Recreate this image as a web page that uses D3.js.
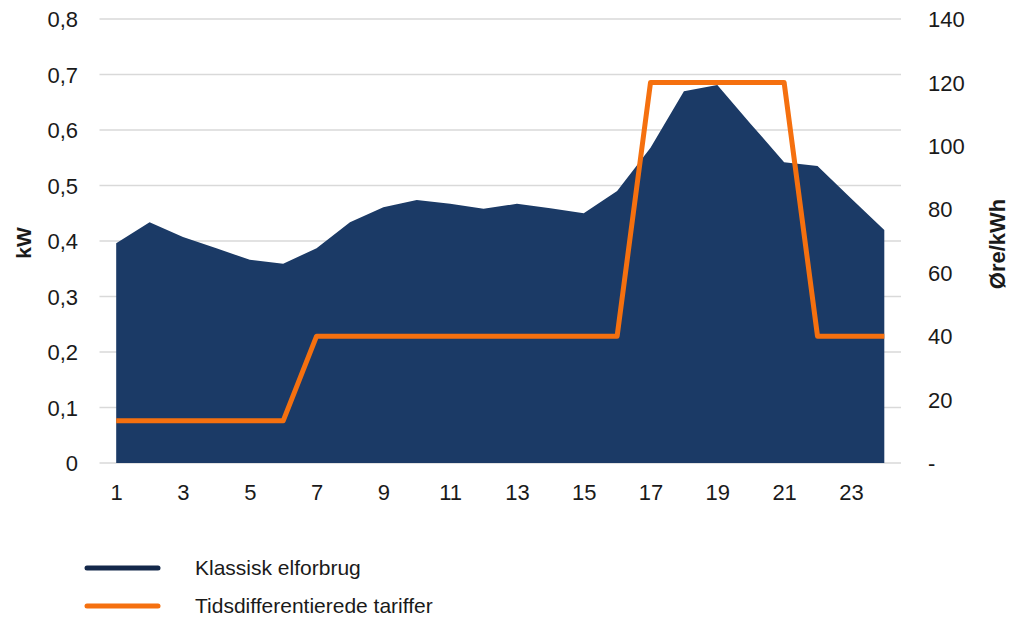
<!DOCTYPE html>
<html><head><meta charset="utf-8">
<script src="https://cdn.jsdelivr.net/npm/d3@7"></script>
<style>body{margin:0;background:#fff}svg{font-family:"Liberation Sans",Arial,sans-serif}</style>
</head><body><svg id="c" width="1010" height="620"></svg>
<script>
const hours = d3.range(1,25);
const consumption = [0.396,0.434,0.407,0.387,0.366,0.359,0.387,0.434,0.461,0.474,0.467,0.458,0.467,0.459,0.450,0.490,0.568,0.670,0.681,0.611,0.542,0.535,0.477,0.420];
const tariff = [13.3,13.3,13.3,13.3,13.3,13.3,40,40,40,40,40,40,40,40,40,40,120,120,120,120,120,40,40,40];
const leftTicks = [0,0.1,0.2,0.3,0.4,0.5,0.6,0.7,0.8];
const rightTicks = [0,20,40,60,80,100,120,140];
const xTicks = [1,3,5,7,9,11,13,15,17,19,21,23];
const seriesNames = ["Klassisk elforbrug","Tidsdifferentierede tariffer"];

const svg = d3.select("#c");
const x = d3.scaleLinear().domain([0.5,24.5]).range([99.5,901]);
const yL = d3.scaleLinear().domain([0,0.8]).range([463,19]);
const yR = d3.scaleLinear().domain([0,140]).range([463,19]);

// grid
svg.append("g").selectAll("line").data(leftTicks).join("line")
  .attr("x1",x.range()[0]).attr("x2",x.range()[1])
  .attr("y1",d=>yL(d)).attr("y2",d=>yL(d))
  .attr("stroke","#d9d9d9").attr("stroke-width",1.5);

// area
svg.append("path").datum(hours)
  .attr("d", d3.area().x(d=>x(d)).y0(yL(0)).y1((d,i)=>yL(consumption[i])))
  .attr("fill","#1b3a66");

// tariff line
svg.append("path").datum(hours)
  .attr("d", d3.line().x(d=>x(d)).y((d,i)=>yR(tariff[i])))
  .attr("fill","none").attr("stroke","#f5700f").attr("stroke-width",5).attr("stroke-linejoin","round");

// axes
const fmtL = d => d===0 ? "0" : d3.format(".1f")(d).replace(".",",");
const gL = svg.append("g").attr("transform","translate(78,0)")
  .call(d3.axisLeft(yL).tickValues(leftTicks).tickFormat(fmtL).tickSize(0).tickPadding(0));
const gR = svg.append("g").attr("transform","translate(928,0)")
  .call(d3.axisRight(yR).tickValues(rightTicks).tickFormat(d=>d===0?"-":d).tickSize(0).tickPadding(0));
const gX = svg.append("g").attr("transform","translate(0,484)")
  .call(d3.axisBottom(x).tickValues(xTicks).tickFormat(d=>d).tickSize(0).tickPadding(0));
[gL,gR,gX].forEach(g=>{g.select(".domain").remove();
  g.selectAll("text").attr("font-size",22).attr("fill","#1a1a1a").attr("font-family","Liberation Sans, Arial, sans-serif");});
gL.selectAll("text").attr("dy","0.35em");
gR.selectAll("text").attr("dy","0.35em");
gX.selectAll("text").attr("dy","0.71em");

// axis titles
svg.append("text").attr("transform","translate(31,243) rotate(-90)").attr("text-anchor","middle")
  .attr("font-size",21).attr("font-weight","bold").attr("fill","#1a1a1a").text("kW");
svg.append("text").attr("transform","translate(1005,244) rotate(-90)").attr("text-anchor","middle")
  .attr("font-size",22).attr("font-weight","bold").attr("fill","#1a1a1a").text("Øre/kWh");

// legend
const legColors = ["#14284a","#f5700f"];
const leg = svg.append("g").selectAll("g").data(seriesNames).join("g")
  .attr("transform",(d,i)=>`translate(0,${568+i*38})`);
leg.append("line").attr("x1",87).attr("x2",158).attr("y1",0).attr("y2",0)
  .attr("stroke",(d,i)=>legColors[i]).attr("stroke-width",5).attr("stroke-linecap","round");
leg.append("text").attr("x",195).attr("y",0).attr("dy","0.35em").attr("font-size",21).attr("fill","#1a1a1a").text(d=>d);
</script></body></html>
